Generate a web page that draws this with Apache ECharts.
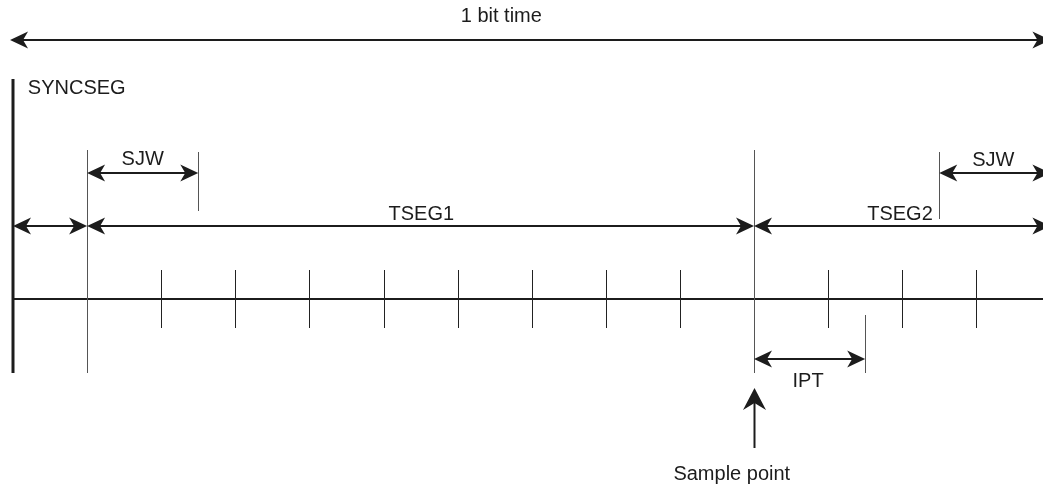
<!DOCTYPE html>
<html>
<head>
<meta charset="utf-8">
<script src="https://cdn.jsdelivr.net/npm/echarts@6/dist/echarts.min.js"></script>
<style>
html,body{margin:0;padding:0;background:#fff;}
#chart{width:1043px;height:488px;}
</style>
</head>
<body>
<div id="chart"></div>
<script>
// ---- Data (x in time quanta, y in diagram rows) ----
const bitQuanta = 14;
const visibleQuanta = 13.9;          // the picture is cut just before the end of the bit
const shortTickQuanta = [2, 3, 4, 5, 6, 7, 8, 9, 11, 12, 13];
const sampleQuanta = 10;

// vertical marker lines: [quanta, top row, bottom row, kind]
const markerLines = [
  [0, 79, 373, 'bold'],
  [1, 150, 373, 'thin'],
  [10, 150, 373, 'thin'],
  [2.5, 152, 211, 'thin'],
  [12.5, 152, 219, 'thin'],
  [11.5, 315, 373, 'thin']
];

// double-headed spans
const spanLabels   = ['1 bit time', 'SJW', '', 'TSEG1', 'TSEG2', 'SJW', 'IPT'];
const spanFrom     = [-0.04, 1, 0, 1, 10, 12.5, 10];
const spanTo       = [bitQuanta, 2.5, 1, 10, bitQuanta, bitQuanta, 11.5];
const spanRow      = [40, 173, 226, 226, 226, 173, 359];
const spanLabelX   = [6.59, 1.75, 0.5, 5.51, 11.97, 13.23, 10.73];
const spanLabelRow = [16, 159, 214, 214, 214, 160, 381];

const baselineRow = 299;
const shortTickTop = 270, shortTickBottom = 328;
const syncLabel = ['SYNCSEG', 0.2, 88.5];
// [label, quanta, tail row, tip row, label quanta, label row]
const samplePoint = ['Sample point', sampleQuanta, 448, 388, 9.70, 474];

const FONT = '20px "Liberation Sans", Arial, sans-serif';
const INK = '#1c1c1c';

function head(tip, dx, dy, len, half, notch) {
  const px = -dy, py = dx;
  return [
    [tip[0], tip[1]],
    [tip[0] - dx * len + px * half, tip[1] - dy * len + py * half],
    [tip[0] - dx * (len - notch), tip[1] - dy * (len - notch)],
    [tip[0] - dx * len - px * half, tip[1] - dy * len - py * half]
  ];
}

const chart = echarts.init(document.getElementById('chart'), null, {renderer: 'canvas'});

const tickData = [];
shortTickQuanta.forEach(q => tickData.push([q, shortTickTop, shortTickBottom, 'tick']));
markerLines.forEach(m => tickData.push(m));

const spanData = spanLabels.map((l, i) => [spanFrom[i], spanTo[i], spanRow[i], spanLabelX[i], spanLabelRow[i], l]);

chart.setOption({
  animation: false,
  backgroundColor: '#ffffff',
  grid: {left: 13, top: 0, right: 0, bottom: 0},
  xAxis: {type: 'value', min: 0, max: visibleQuanta, show: false},
  yAxis: {type: 'value', min: 0, max: 488, inverse: true, show: false},
  series: [
    {
      type: 'custom', clip: false,
      data: [[0, bitQuanta, baselineRow]],
      renderItem: (p, api) => {
        const a = api.coord([api.value(0), api.value(2)]);
        const b = api.coord([api.value(1), api.value(2)]);
        return {type: 'line', shape: {x1: a[0], y1: a[1], x2: b[0], y2: b[1]},
          style: {stroke: INK, lineWidth: 2}};
      }
    },
    {
      type: 'custom', clip: false,
      data: tickData,
      renderItem: (p, api) => {
        const kind = tickData[p.dataIndex][3];
        const a = api.coord([api.value(0), api.value(1)]);
        const b = api.coord([api.value(0), api.value(2)]);
        const x = Math.round(a[0]) + (kind === 'bold' ? 0 : 0.5);
        return {type: 'line', shape: {x1: x, y1: a[1], x2: x, y2: b[1]},
          style: {stroke: kind === 'bold' ? INK : (kind === 'tick' ? '#222' : '#555'),
                  lineWidth: kind === 'bold' ? 3 : 1}};
      }
    },
    {
      type: 'custom', clip: false,
      data: spanData,
      renderItem: (p, api) => {
        const a = api.coord([api.value(0), api.value(2)]);
        const b = api.coord([api.value(1), api.value(2)]);
        const lab = api.coord([api.value(3), api.value(4)]);
        const label = spanData[p.dataIndex][5];
        const children = [
          {type: 'line', shape: {x1: a[0] + 6, y1: a[1], x2: b[0] - 6, y2: b[1]},
            style: {stroke: INK, lineWidth: 2}},
          {type: 'polygon', shape: {points: head(a, -1, 0, 18, 8.5, 5)}, style: {fill: INK}},
          {type: 'polygon', shape: {points: head(b, 1, 0, 18, 8.5, 5)}, style: {fill: INK}}
        ];
        if (label) children.push({type: 'text', style: {text: label, x: lab[0], y: lab[1],
          align: 'center', verticalAlign: 'middle', font: FONT, fill: INK}});
        return {type: 'group', children};
      }
    },
    {
      type: 'custom', clip: false,
      data: [[syncLabel[1], syncLabel[2]]],
      renderItem: (p, api) => {
        const c = api.coord([api.value(0), api.value(1)]);
        return {type: 'text', style: {text: syncLabel[0], x: c[0], y: c[1],
          align: 'left', verticalAlign: 'middle', font: FONT, fill: INK}};
      }
    },
    {
      type: 'custom', clip: false,
      data: [[samplePoint[1], samplePoint[2], samplePoint[3], samplePoint[4], samplePoint[5]]],
      renderItem: (p, api) => {
        const tail = api.coord([api.value(0), api.value(1)]);
        const tip = api.coord([api.value(0), api.value(2)]);
        const lab = api.coord([api.value(3), api.value(4)]);
        const x = Math.round(tip[0]) + 0.5;
        return {type: 'group', children: [
          {type: 'line', shape: {x1: x, y1: tail[1], x2: x, y2: tip[1] + 10},
            style: {stroke: INK, lineWidth: 2}},
          {type: 'polygon', shape: {points: head([x, tip[1]], 0, -1, 22, 11.5, 7)}, style: {fill: INK}},
          {type: 'text', style: {text: samplePoint[0], x: lab[0], y: lab[1],
            align: 'center', verticalAlign: 'middle', font: FONT, fill: INK}}
        ]};
      }
    }
  ]
});
</script>
</body>
</html>
